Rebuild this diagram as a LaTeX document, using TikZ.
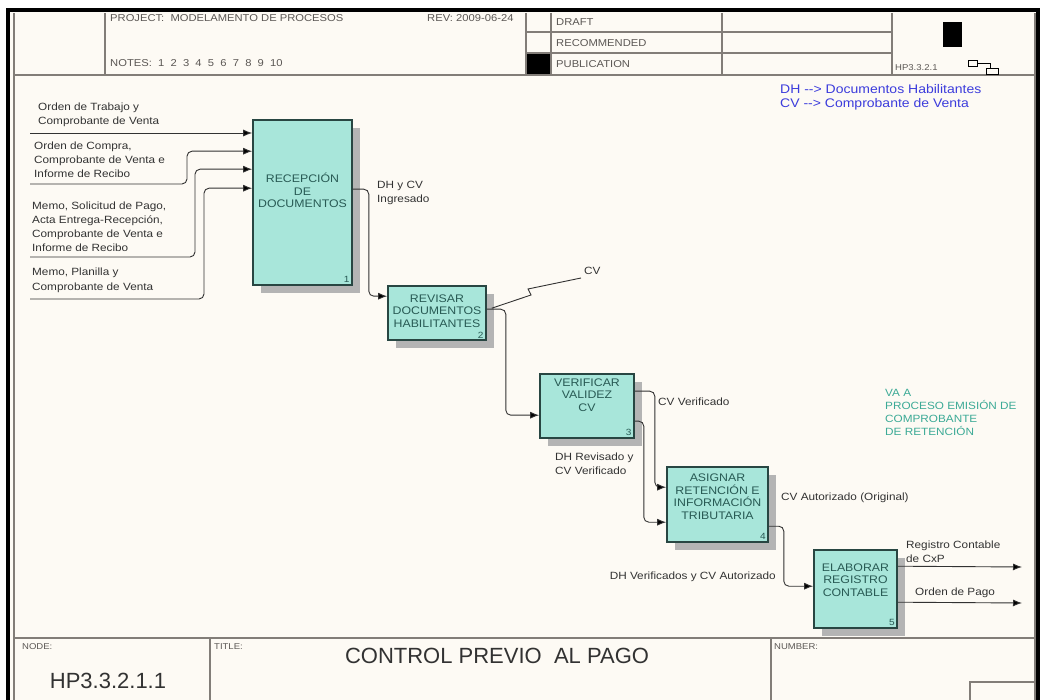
\documentclass[tikz,border=0pt]{standalone}
\usepackage{fontspec}
\setmainfont{Liberation Sans}
\newfontfamily\labfont[FakeStretch=1.12]{Liberation Sans}
\usetikzlibrary{arrows.meta,calc,shadows}
\definecolor{bg}{RGB}{253,250,244}
\definecolor{boxfill}{RGB}{168,230,218}
\definecolor{boxline}{RGB}{40,70,66}
\definecolor{boxtext}{RGB}{40,90,84}
\definecolor{frame}{RGB}{130,125,120}
\definecolor{ink}{RGB}{50,50,50}
\definecolor{legblue}{RGB}{60,60,220}
\definecolor{vateal}{RGB}{60,170,150}
\definecolor{shade}{RGB}{180,180,180}
\tikzset{
 proc/.style={draw=boxline, line width=1.6pt, fill=boxfill, inner sep=0pt,
   drop shadow={shadow xshift=8pt, shadow yshift=-8pt, fill=shade, opacity=1}},
 ptext/.style={font=\labfont\fontsize{11}{12.5}\selectfont, text=boxtext, align=center, inner sep=0pt},
 pnum/.style={font=\labfont\fontsize{9}{10}\selectfont, text=boxtext, inner sep=0pt, anchor=south east},
 lab/.style={font=\labfont\fontsize{10.5}{14}\selectfont, text=ink, align=left, inner sep=0pt},
 conn/.style={draw=ink, line width=0.9pt, rounded corners=5pt},
 arr/.style={conn, -{Latex[length=9pt,width=7pt,fill=black]}},
 frm/.style={draw=frame, line width=1.1pt},
 hdr/.style={font=\labfont\fontsize{10}{11}\selectfont, text=frame!70!black, inner sep=0pt, anchor=west},
 small/.style={font=\labfont\fontsize{8.5}{10}\selectfont, text=frame!70!black, inner sep=0pt, anchor=west},
 big/.style={font=\fontsize{22}{24}\selectfont, text=ink, inner sep=0pt},
}
\begin{document}
\begin{tikzpicture}[x=1pt,y=-1pt]
\useasboundingbox (0,0) rectangle (1042,700);
\fill[white] (0,0) rectangle (1042,700);
\fill[bg] (8,10) rectangle (1038,700);
% frame
\draw[black, line width=3.5pt] (8,700) -- (8,10) -- (1038,10) -- (1038,700);
\draw[frm] (14,13) -- (14,700);
\draw[frm] (1035,13) -- (1035,700);
% header
\draw[frm] (14,75) -- (1035,75);
\draw[frm] (105,13) -- (105,75);
\draw[frm] (526,13) -- (526,75);
\draw[frm] (551,13) -- (551,75);
\draw[frm] (722,13) -- (722,75);
\draw[frm] (892,13) -- (892,75);
\draw[frm] (526,32) -- (892,32);
\draw[frm] (526,53) -- (892,53);
\fill[black] (527,54) rectangle (550,74);
\fill[black] (943,22) rectangle (962,47);
\draw[black, line width=0.6pt] (968,60) rectangle (977,66);
\draw[black, line width=0.6pt] (977,63) -- (990,63) -- (990,68);
\draw[black, line width=0.6pt] (986,68) rectangle (998,74);
\node[hdr] (hproj) at (110,18) {PROJECT:\ \ MODELAMENTO DE PROCESOS};
\node[hdr] (hrev) at (427,18) {REV:};
\node[hdr] (hdate) at (456,18) {2009-06-24};
\node[hdr] (hnotes) at (110,63) {NOTES:\ \ 1\ \ 2\ \ 3\ \ 4\ \ 5\ \ 6\ \ 7\ \ 8\ \ 9\ \ 10};
\node[hdr] (hdraft) at (556,22) {DRAFT};
\node[hdr] (hrec) at (556,43) {RECOMMENDED};
\node[hdr] (hpub) at (556,64) {PUBLICATION};
\node[small] (hnum) at (895,68) {HP3.3.2.1};
% footer
\draw[frm] (14,638) -- (1035,638);
\draw[frm] (210,638) -- (210,700);
\draw[frm] (771,638) -- (771,700);
\draw[frm] (970,700) -- (970,682) -- (1035,682);
\node[small] (fnode) at (22,647) {NODE:};
\node[small] (ftitle) at (214,647) {TITLE:};
\node[small] (fnumber) at (774,647) {NUMBER:};
\node[big] (fhp) at (108,681) {HP3.3.2.1.1};
\node[big] (fctl) at (497,656) {CONTROL PREVIO\ \ AL PAGO};
% legend
\node[lab, font=\labfont\fontsize{12.5}{14}\selectfont, text=legblue, anchor=north west] (leg) at (780,84) {DH --> Documentos Habilitantes\\CV --> Comprobante de Venta};
\node[lab, text=vateal, anchor=north west, font=\labfont\fontsize{10.5}{13}\selectfont] (vaa) at (885,389) {VA A\\PROCESO EMISIÓN DE\\COMPROBANTE\\DE RETENCIÓN};
% boxes
\node[proc, minimum width=99pt, minimum height=165pt] (b1) at (302.5,202.5) {};
\node[proc, minimum width=98pt, minimum height=54pt] (b2) at (437,313) {};
\node[proc, minimum width=94pt, minimum height=64pt] (b3) at (587,406) {};
\node[proc, minimum width=101pt, minimum height=75pt] (b4) at (717.5,504.5) {};
\node[proc, minimum width=83pt, minimum height=78pt] (b5) at (855.5,589) {};
\node[ptext] (t1) at ($(b1.center)+(0,-12)$) {RECEPCIÓN\\DE\\DOCUMENTOS};
\node[ptext] (t2) at ($(b2.center)+(0,-2)$) {REVISAR\\DOCUMENTOS\\HABILITANTES};
\node[ptext] (t3) at ($(b3.center)+(0,-11)$) {VERIFICAR\\VALIDEZ\\CV};
\node[ptext] (t4) at ($(b4.center)+(0,-8)$) {ASIGNAR\\RETENCIÓN E\\INFORMACIÓN\\TRIBUTARIA};
\node[ptext] (t5) at ($(b5.center)+(0,-9)$) {ELABORAR\\REGISTRO\\CONTABLE};
\node[pnum] (n1) at ($(b1.south east)+(-3,-3)$) {1};
\node[pnum] (n2) at ($(b2.south east)+(-3,-2)$) {2};
\node[pnum] (n3) at ($(b3.south east)+(-3,-3)$) {3};
\node[pnum] (n4) at ($(b4.south east)+(-3,-3)$) {4};
\node[pnum] (n5) at ($(b5.south east)+(-3,-3)$) {5};
% inputs
\coordinate (i1) at (30,133);
\coordinate (i2) at (30,184);
\coordinate (i3) at (30,257);
\coordinate (i4) at (30,299);
\draw[arr] (i1) -- (i1 -| b1.west);
\draw[arr] (i2) -- ++(157,0) |- ($(b1.north west)+(0,32)$);
\draw[arr] (i3) -- ++(165,0) |- ($(b1.north west)+(0,50)$);
\draw[arr] (i4) -- ++(174,0) |- ($(b1.north west)+(0,69)$);
\node[lab, anchor=south west] (l1) at (38,127) {Orden de Trabajo y\\Comprobante de Venta};
\node[lab, anchor=south west] (l2) at (34,178) {Orden de Compra,\\Comprobante de Venta e\\Informe de Recibo};
\node[lab, anchor=south west] (l3) at (32,252) {Memo, Solicitud de Pago,\\Acta Entrega-Recepción,\\Comprobante de Venta e\\Informe de Recibo};
\node[lab, anchor=south west, font=\labfont\fontsize{10.5}{15}\selectfont] (l4) at (32,293) {Memo, Planilla y\\Comprobante de Venta};
% internal flows
\draw[arr] ($(b1.north east)+(0,70)$) -- ++(16,0) |- ($(b2.north west)+(0,11)$);
\node[lab, anchor=north west] (l5) at (377,181) {DH y CV\\Ingresado};
\draw[arr] ($(b2.north east)+(0,24)$) -- ++(19,0) |- ($(b3.north west)+(0,42)$);
\node[lab, anchor=south west] (cv) at (584,275) {CV};
\draw[conn, rounded corners=0pt] ($(b2.north east)+(5,23)$) -- (531,295) -- (528,289) -- ($(cv.south west)+(-3,3)$);
\draw[arr] ($(b3.north east)+(0,18)$) -- ++(20,0) |- ($(b4.north west)+(0,21)$);
\draw[arr] ($(b3.north east)+(0,48)$) -- ++(9,0) |- ($(b4.north west)+(0,56)$);
\node[lab, anchor=west] (l6) at (658,402) {CV Verificado};
\node[lab, anchor=north west] (l7) at (555,453) {DH Revisado y\\CV Verificado};
\node[lab, anchor=west] (l8) at (781,498) {CV Autorizado (Original)};
\draw[arr] ($(b4.north east)+(0,60)$) -- ++(15,0) |- ($(b5.north west)+(0,37)$);
\node[lab, anchor=east] (l9) at (776,577) {DH Verificados y CV Autorizado};
% outputs
\coordinate (o1) at (1022,567);
\coordinate (o2) at (1022,603);
\draw[arr] ($(b5.north east)+(0,17)$) -- (o1);
\draw[arr] ($(b5.north east)+(0,53)$) -- (o2);
\node[lab, anchor=south west] (l10) at (906,563) {Registro Contable\\de CxP};
\node[lab, anchor=south west] (l11) at (915,598) {Orden de Pago};
\end{tikzpicture}
\end{document}
